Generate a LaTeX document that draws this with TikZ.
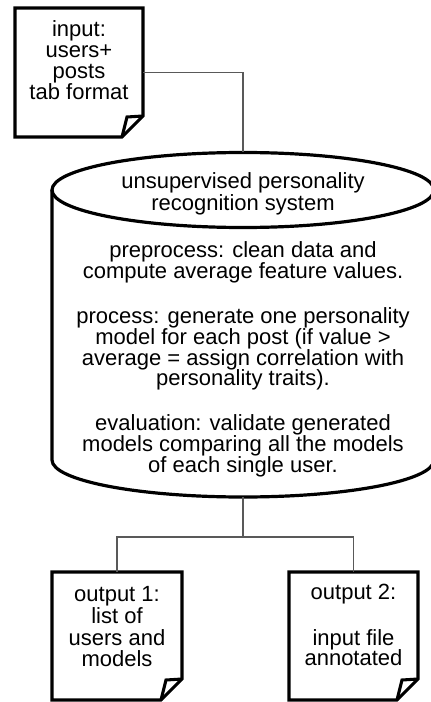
\documentclass[tikz,border=0pt]{standalone}
\usepackage{fontspec}
\setmainfont{Liberation Sans}
\setlength{\lineskiplimit}{-10pt}
\begin{document}
\begin{tikzpicture}[x=0.75pt,y=-0.75pt,
  docline/.style={line width=2.3pt,line join=miter},
  cylline/.style={line width=2.4pt},
  docbox/.style={draw=none,inner sep=0pt,outer sep=0pt,rectangle},
  conn/.style={line width=0.8pt,draw=black!65},
  txt/.style={inner sep=0pt,align=center,font=\fontsize{16.5}{#1}\selectfont},
]
\useasboundingbox (0,0) rectangle (430,702);
\newcommand\docshape[1]{%
  \draw[docline] (#1.north west) -- (#1.north east) -- ([yshift=15.75pt]#1.south east)
     -- ([xshift=-15.75pt]#1.south east) -- (#1.south west) -- cycle;
  \draw[docline] ([yshift=15.75pt]#1.south east) -- ([xshift=-12pt,yshift=15pt]#1.south east)
     -- ([xshift=-15.75pt]#1.south east);}
% boxes
\node[docbox,minimum width=96pt,minimum height=96.75pt] (in) at (79,72.5) {};
\node[docbox,minimum width=97.5pt,minimum height=96pt] (out1) at (117,636) {};
\node[docbox,minimum width=96.75pt,minimum height=96pt] (out2) at (353.5,636) {};
\docshape{in}
\docshape{out1}
\docshape{out2}
% cylinder
\draw[cylline] (243,190) ellipse [x radius=143.25pt, y radius=28.125pt];
\draw[cylline] (52,190) -- (52,460) arc[start angle=180, end angle=360, x radius=143.25pt, y radius=27.75pt] -- (434,190);
\coordinate (cyltop) at (243,152.5);
\coordinate (cylbot) at (243,497);
\coordinate (split) at (243,537);
% connectors
\draw[conn] (in.east) -| (cyltop);
\draw[conn] (cylbot) -- (split);
\draw[conn] (split) -| (out1.north);
\draw[conn] (split) -| (out2.north);
% texts
\node[txt=15.75pt] (intext) at (79,60.6) {input:\\users+\\posts\\tab format};
\node[txt=16.3pt] (cyltitle) at (243,193.6) {unsupervised personality\\recognition system};
\node[txt=15.5pt] (cylbody) at (243,359.4) {preprocess: clean data and\\compute average feature values.\\[18.4pt]process: generate one personality\\model for each post (if value >\\average = assign correlation with\\personality traits).\\[18.4pt]evaluation: validate generated\\models comparing all the models\\of each single user.};
\node[txt=16.4pt] (out1text) at (117,626.6) {output 1:\\list of\\users and\\models};
\node[txt=15.5pt] (out2text) at (353.5,625) {output 2:\\[18.75pt]input file\\annotated};
\end{tikzpicture}
\end{document}
